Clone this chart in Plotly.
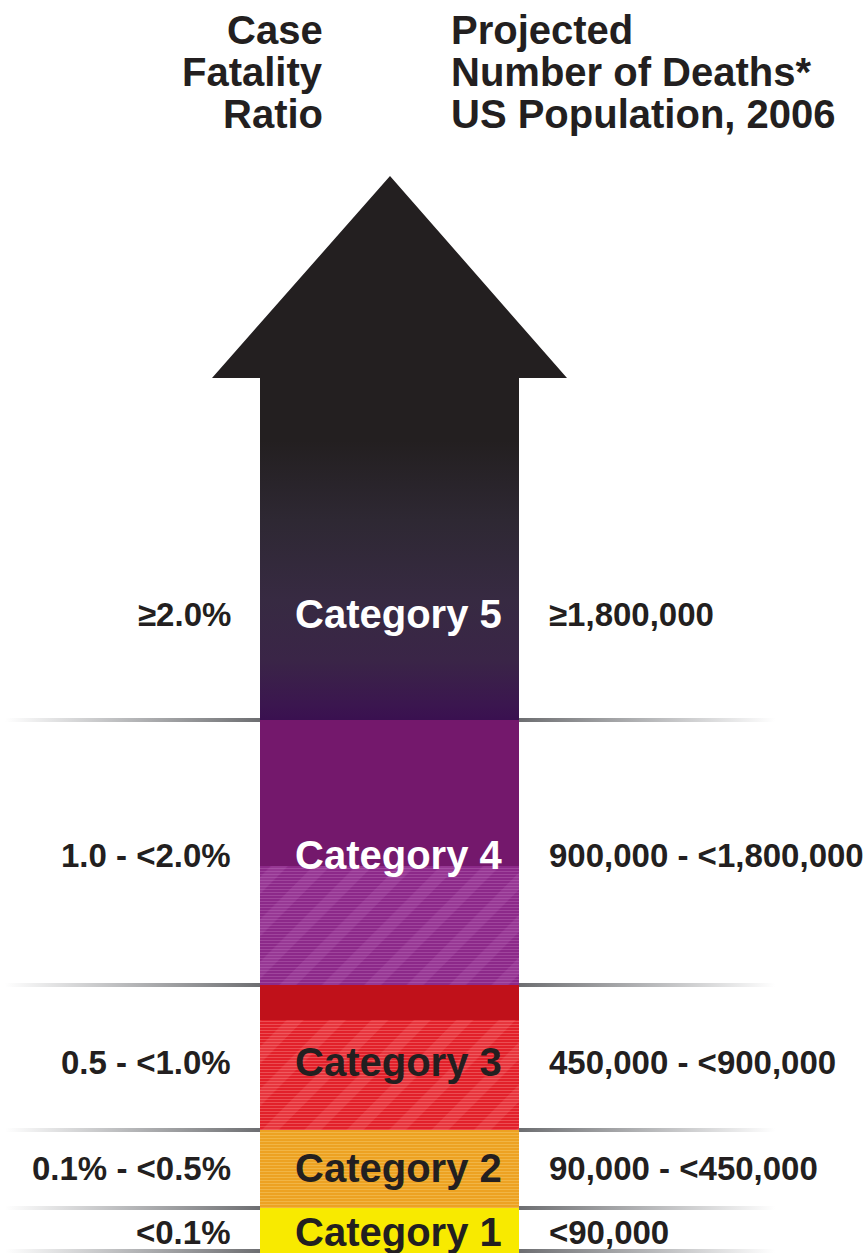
import plotly.graph_objects as go

# ---------------- data ----------------
categories = ["Category 5", "Category 4", "Category 3", "Category 2", "Category 1"]
cfr_labels = ["≥2.0%", "1.0 - <2.0%", "0.5 - <1.0%", "0.1% - <0.5%", "<0.1%"]
death_labels = ["≥1,800,000", "900,000 - <1,800,000", "450,000 - <900,000",
                "90,000 - <450,000", "<90,000"]
header_left = ["Case", "Fatality", "Ratio"]
header_right = ["Projected", "Number of Deaths*", "US Population, 2006"]

# ---------------- layout constants (pixel space) ----------------
W, H = 868, 1253
band_edges = [378, 720, 985, 1130, 1208, 1253]   # shaft top, band boundaries, bottom
sep_lines = [720, 985, 1130, 1208, 1251]
shaft_x0, shaft_x1 = 260, 519
head_x0, head_x1, tip_y = 212, 567, 176
label_y = [614, 855, 1062, 1168, 1232]
left_x, right_x, cat_x = 233, 547, 398
line_left_x0, line_right_x1 = 5, 775

# styles for bands (Category 4 .. Category 1)
band_styles = [
    dict(split=0.55, top="#74186c", base="#8c2989", lines="#b260b0",
         diag="rgba(200,120,200,0.18)"),
    dict(split=0.24, top="#c0111a", base="#e2202a", lines="#f57b7b",
         diag="rgba(255,150,150,0.18)"),
    dict(split=0.0, top=None, base="#eda222", lines="#f6c86a", diag=None),
    dict(split=0.0, top=None, base="#f8ea00", lines=None, diag=None),
]
text_colors = ["white", "white", "#231f20", "#231f20", "#231f20"]
dark = "#231f20"
FONT = "Liberation Sans, Arial, Helvetica, sans-serif"

fig = go.Figure()

# ---------------- arrow (Category 5) ----------------
ax = [head_x0, (head_x0 + head_x1) / 2 + 0.5, head_x1, shaft_x1, shaft_x1,
      shaft_x0, shaft_x0, head_x0]
ay = [band_edges[0], tip_y, band_edges[0], band_edges[0], band_edges[1],
      band_edges[1], band_edges[0], band_edges[0]]
span = band_edges[1] - tip_y
def pos(y):
    return (y - tip_y) / span
fig.add_trace(go.Scatter(
    x=ax, y=ay, mode="lines", fill="toself", line=dict(width=0),
    fillgradient=dict(
        type="vertical", start=tip_y, stop=band_edges[1],
        colorscale=[[0, "#231f20"], [pos(440), "#231f20"], [pos(520), "#2e2833"],
                    [pos(600), "#372a42"], [pos(660), "#3a2547"],
                    [pos(705), "#3b164f"], [1, "#3a1050"]]),
    hoverinfo="skip", showlegend=False))

# ---------------- bands (Category 4..1) as bars ----------------
cx = (shaft_x0 + shaft_x1) / 2
bw = shaft_x1 - shaft_x0
for i, st in enumerate(band_styles):
    top = band_edges[i + 1]
    bot = band_edges[i + 2]
    split = top + st["split"] * (bot - top)
    if st["top"] is not None and split > top:
        fig.add_trace(go.Bar(x=[cx], y=[split - top], base=[top], width=[bw],
                             marker=dict(color=st["top"], line=dict(width=0)),
                             hoverinfo="skip", showlegend=False))
    pattern = dict(shape="")
    if st["lines"]:
        pattern = dict(shape="-", fillmode="overlay", fgcolor=st["lines"],
                       fgopacity=0.55, size=3, solidity=0.3)
    fig.add_trace(go.Bar(x=[cx], y=[bot - split], base=[split], width=[bw],
                         marker=dict(color=st["base"], line=dict(width=0),
                                     pattern=pattern),
                         hoverinfo="skip", showlegend=False))
    if st["diag"]:
        fig.add_trace(go.Bar(x=[cx], y=[bot - split], base=[split], width=[bw],
                             marker=dict(color="rgba(0,0,0,0)", line=dict(width=0),
                                         pattern=dict(shape="/", fillmode="replace",
                                                      bgcolor="rgba(0,0,0,0)",
                                                      fgcolor=st["diag"],
                                                      size=30, solidity=0.4)),
                             hoverinfo="skip", showlegend=False))

# ---------------- separator lines with fades ----------------
for yl in sep_lines:
    y0, y1 = yl - 2, yl + 2
    fig.add_trace(go.Scatter(
        x=[line_left_x0, shaft_x0, shaft_x0, line_left_x0, line_left_x0],
        y=[y0, y0, y1, y1, y0], mode="lines", fill="toself", line=dict(width=0),
        fillgradient=dict(type="horizontal", start=line_left_x0, stop=shaft_x0,
                          colorscale=[[0, "rgba(255,255,255,1)"], [0.5, "#b5b6b8"],
                                      [1, "#6d6e71"]]),
        hoverinfo="skip", showlegend=False))
    fig.add_trace(go.Scatter(
        x=[shaft_x1, line_right_x1, line_right_x1, shaft_x1, shaft_x1],
        y=[y0, y0, y1, y1, y0], mode="lines", fill="toself", line=dict(width=0),
        fillgradient=dict(type="horizontal", start=shaft_x1, stop=line_right_x1,
                          colorscale=[[0, "#6d6e71"], [0.5, "#b5b6b8"],
                                      [1, "rgba(255,255,255,1)"]]),
        hoverinfo="skip", showlegend=False))

# ---------------- text ----------------
ann = []
for i in range(len(categories)):
    ann.append(dict(x=left_x, y=label_y[i], text=cfr_labels[i], xanchor="right",
                    yanchor="middle", showarrow=False,
                    font=dict(family=FONT, size=33, color=dark, weight="bold")))
    ann.append(dict(x=right_x, y=label_y[i], text=death_labels[i], xanchor="left",
                    yanchor="middle", showarrow=False,
                    font=dict(family=FONT, size=33, color=dark, weight="bold")))
    ann.append(dict(x=cat_x, y=label_y[i], text=categories[i], xanchor="center",
                    yanchor="middle", showarrow=False,
                    font=dict(family=FONT, size=40, color=text_colors[i], weight="bold")))

header_y = [30, 72, 114]
for j in range(3):
    ann.append(dict(x=325, y=header_y[j], text=header_left[j], xanchor="right",
                    yanchor="middle", showarrow=False,
                    font=dict(family=FONT, size=40, color=dark, weight="bold")))
    ann.append(dict(x=449, y=header_y[j], text=header_right[j], xanchor="left",
                    yanchor="middle", showarrow=False,
                    font=dict(family=FONT, size=40, color=dark, weight="bold")))

fig.update_layout(
    width=W, height=H, margin=dict(l=0, r=0, t=0, b=0),
    paper_bgcolor="white", plot_bgcolor="white",
    barmode="overlay", bargap=0,
    xaxis=dict(range=[0, W], visible=False, fixedrange=True),
    yaxis=dict(range=[H, 0], visible=False, fixedrange=True),
    annotations=ann, showlegend=False,
)

fig.write_html("out.html", config={"displayModeBar": False},
               post_script="document.body.style.margin='0';document.body.style.padding='0';")
